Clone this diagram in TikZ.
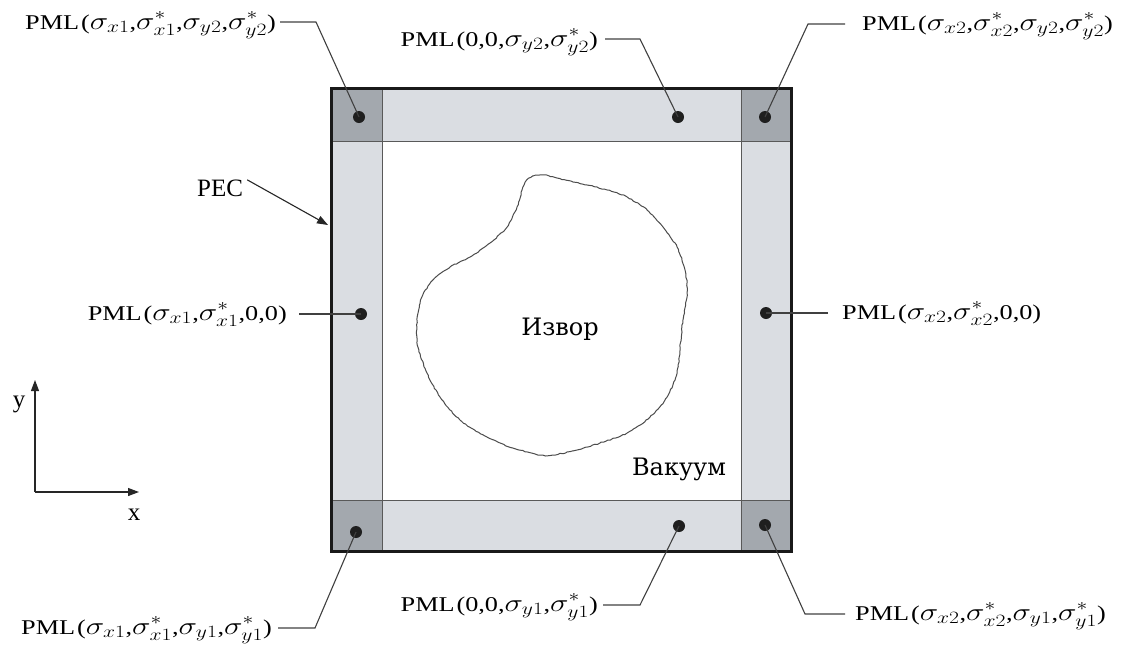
\documentclass[tikz,border=0pt]{standalone}
\usepackage{fontspec}
\usepackage{graphicx}
\setmainfont{Liberation Serif}
\newfontfamily\cyrfont{DejaVu Serif}
\usetikzlibrary{arrows.meta,decorations.pathmorphing}
% sigma and sigma-star with a subscript, set a little larger than the text
\newcommand{\smg}[1]{{\fontsize{23}{23}\selectfont$\sigma_{#1}$}}
\newcommand{\smgs}[1]{{\fontsize{23}{23}\selectfont$\sigma^{*}_{#1}$}}
% a PML label, set in a widened face
\newcommand{\pmllabel}[1]{\scalebox{1.25}[1]{PML\kern1.5pt(#1)}}
\definecolor{stripgray}{RGB}{218,221,226}
\definecolor{cornergray}{RGB}{163,168,174}
\begin{document}
\begin{tikzpicture}[x=1pt,y=-1pt,
  lbl/.style={inner sep=0pt,font=\fontsize{21}{24}\selectfont},
  big/.style={inner sep=0pt,font=\fontsize{25}{28}\selectfont},
  cyr/.style={inner sep=0pt,font=\cyrfont\fontsize{24}{28}\selectfont},
  dotn/.style={circle,fill=black!88,inner sep=0pt,minimum size=12pt},
  leader/.style={draw=black!75,line width=1.1pt},
  grid/.style={draw=black!65,line width=0.9pt},
  pointer/.style={draw=black!85,line width=1.1pt,-{Triangle[length=11pt,width=8pt]}}]
\useasboundingbox (0,0) rectangle (1123,646);
% PML frame and corner blocks
\fill[stripgray] (331,88) rectangle (791,551);
\fill[white] (382,141) rectangle (741,500);
\fill[cornergray] (331,88) rectangle (382,141);
\fill[cornergray] (741,88) rectangle (791,141);
\fill[cornergray] (331,500) rectangle (382,551);
\fill[cornergray] (741,500) rectangle (791,551);
\draw[grid] (382,88) -- (382,551);
\draw[grid] (741,88) -- (741,551);
\draw[grid] (331,141) -- (791,141);
\draw[grid] (331,500) -- (791,500);
\draw[line width=3pt,black!90] (331,88) rectangle (791,551);
% scatterer outline
\pgfmathsetseed{7}
\draw[black!70,line width=1pt,decorate,decoration={random steps,segment length=2.5pt,amplitude=0.5pt}]
  plot[smooth cycle,tension=0.5] coordinates {
  (527,180) (533,176) (543,175) (557,178) (573,182) (587,185) (607,190)
  (627,197) (647,210) (663,227) (677,247) (685,270) (687,293) (683,320)
  (680,347) (677,373) (667,397) (650,417) (627,433) (600,443) (577,450)
  (553,455) (540,455) (513,448) (487,437) (460,420) (440,397) (427,373)
  (418,347) (417,320) (422,297) (433,280) (450,267) (470,257) (490,243)
  (507,227) (517,207) (523,187)};
\node[cyr,anchor=base] (izvor) at (560,335) {Извор};
\node[cyr,anchor=base] (vakuum) at (679,475) {Вакуум};
% marker dots
\node[dotn] (dTL) at (359,117) {};
\node[dotn] (dT) at (678,117) {};
\node[dotn] (dTR) at (765,117) {};
\node[dotn] (dL) at (361,314) {};
\node[dotn] (dR) at (766,313) {};
\node[dotn] (dBL) at (356,532) {};
\node[dotn] (dB) at (679,526) {};
\node[dotn] (dBR) at (765,525) {};
% labels
\node[lbl,anchor=base east] (lTL) at (276,29) {\pmllabel{\smg{x1},\smgs{x1},\smg{y2},\smgs{y2}}};
\node[lbl,anchor=base east] (lT) at (598,46) {\pmllabel{0,0,\smg{y2},\smgs{y2}}};
\node[lbl,anchor=base west] (lTR) at (862,30) {\pmllabel{\smg{x2},\smgs{x2},\smg{y2},\smgs{y2}}};
\node[lbl,anchor=base east] (lL) at (287,320) {\pmllabel{\smg{x1},\smgs{x1},0,0}};
\node[lbl,anchor=base west] (lR) at (842,319) {\pmllabel{\smg{x2},\smgs{x2},0,0}};
\node[lbl,anchor=base east] (lBL) at (272,634) {\pmllabel{\smg{x1},\smgs{x1},\smg{y1},\smgs{y1}}};
\node[lbl,anchor=base east] (lB) at (598,611) {\pmllabel{0,0,\smg{y1},\smgs{y1}}};
\node[lbl,anchor=base west] (lBR) at (855,620) {\pmllabel{\smg{x2},\smgs{x2},\smg{y1},\smgs{y1}}};
% leader lines
\coordinate (sTL) at (280,22); \coordinate (kTL) at (316,22);
\coordinate (sT) at (605,39); \coordinate (kT) at (640,39);
\coordinate (sTR) at (845,24); \coordinate (kTR) at (808,24);
\coordinate (sL) at (299,314);
\coordinate (sR) at (828,313);
\coordinate (sBL) at (278,628); \coordinate (kBL) at (315,628);
\coordinate (sB) at (603,605); \coordinate (kB) at (640,605);
\coordinate (sBR) at (845,614); \coordinate (kBR) at (805,614);
\draw[leader] (sTL) -- (kTL) -- (dTL.center);
\draw[leader] (sT) -- (kT) -- (dT.center);
\draw[leader] (sTR) -- (kTR) -- (dTR.center);
\draw[leader] (sL) -- (dL.center);
\draw[leader] (sR) -- (dR.center);
\draw[leader] (sBL) -- (kBL) -- (dBL.center);
\draw[leader] (sB) -- (kB) -- (dB.center);
\draw[leader] (sBR) -- (kBR) -- (dBR.center);
% PEC wall pointer
\node[big,anchor=base west] (pec) at (197,196) {PEC};
\coordinate (pecTip) at (328,225);
\draw[pointer] (pec.east) ++(4,-8) -- (pecTip);
% axes
\coordinate (origin) at (35,492);
\coordinate (yEnd) at (35,380);
\coordinate (xEnd) at (139,492);
\draw[pointer] (origin) -- (yEnd);
\draw[pointer] (origin) -- (xEnd);
\node[big,anchor=base] (ylab) at (19,407) {y};
\node[big,anchor=base] (xlab) at (134,520) {x};
\end{tikzpicture}
\end{document}
